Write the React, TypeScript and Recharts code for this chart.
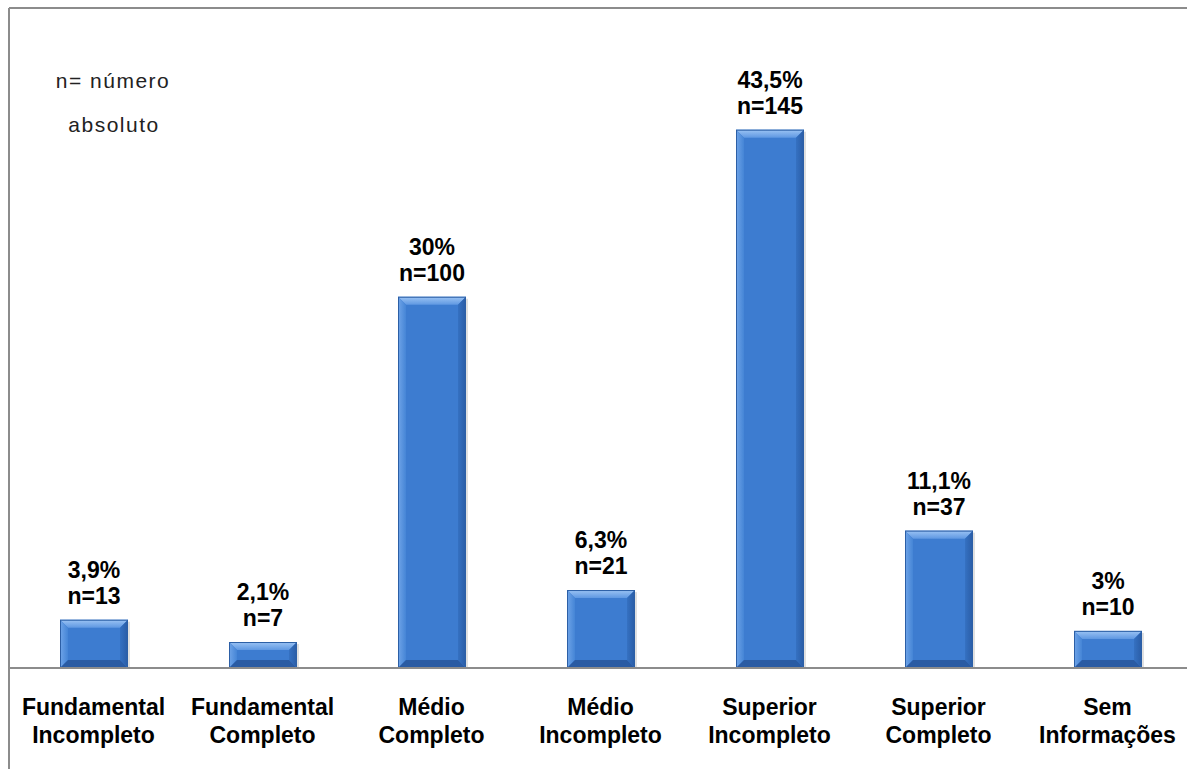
import { BarChart, Bar, XAxis, YAxis, LabelList } from "recharts";

const categories = [
  "Fundamental Incompleto",
  "Fundamental Completo",
  "Médio Completo",
  "Médio Incompleto",
  "Superior Incompleto",
  "Superior Completo",
  "Sem Informações",
];
const counts = [13, 7, 100, 21, 145, 37, 10];
const percents = ["3,9%", "2,1%", "30%", "6,3%", "43,5%", "11,1%", "3%"];

const data = categories.map((name, i) => ({ name, n: counts[i], pct: percents[i] }));

const FONT = "'Liberation Sans', Arial, sans-serif";

// bar with a bevelled look like the old Office charts
function BevelBar(props: any) {
  const { x, y, width: w, height: h } = props;
  if (!h || h <= 0) return null;
  const b = Math.min(8, h / 3);
  return (
    <g>
      <rect x={x + 2} y={y + 2} width={w} height={h - 2} fill="#000" opacity={0.12} />
      <rect x={x} y={y} width={w} height={h} fill="#3D7CD0" />
      <polygon points={`${x},${y} ${x + w},${y} ${x + w - b},${y + b} ${x + b},${y + b}`} fill="url(#bevTop)" />
      <polygon points={`${x},${y} ${x + b},${y + b} ${x + b},${y + h - b} ${x},${y + h}`} fill="url(#bevLeft)" />
      <polygon points={`${x + w},${y} ${x + w - b},${y + b} ${x + w - b},${y + h - b} ${x + w},${y + h}`} fill="url(#bevRight)" />
      <polygon points={`${x},${y + h} ${x + b},${y + h - b} ${x + w - b},${y + h - b} ${x + w},${y + h}`} fill="#2A5BA3" />
      <rect x={x + 0.5} y={y + 0.5} width={w - 1} height={h - 1} fill="none" stroke="#2C5FA6" strokeWidth={1} />
    </g>
  );
}

function CategoryTick(props: any) {
  const { x, y, payload } = props;
  const parts = String(payload.value).split(" ");
  return (
    <g>
      {parts.map((p: string, i: number) => (
        <text
          key={i}
          x={x}
          y={y + 47 + i * 28}
          textAnchor="middle"
          fontFamily={FONT}
          fontWeight="bold"
          fontSize={23}
          fill="#000"
        >
          {p}
        </text>
      ))}
    </g>
  );
}

const labelStyle = { fontFamily: FONT, fontWeight: "bold" as const, fontSize: 23, fill: "#000" };

export default function App() {
  return (
    <div
      style={{
        position: "absolute",
        left: 0,
        top: 0,
        width: 1187,
        height: 769,
        overflow: "hidden",
        background: "#fff",
      }}
    >
      <BarChart
        width={1192}
        height={769}
        data={data}
        margin={{ top: 74, right: 0, left: 9, bottom: 11 }}
      >
        <defs>
          <linearGradient id="bevTop" x1="0" y1="0" x2="0" y2="1">
            <stop offset="0%" stopColor="#9CC4F4" />
            <stop offset="100%" stopColor="#5F98E2" />
          </linearGradient>
          <linearGradient id="bevLeft" x1="0" y1="0" x2="1" y2="0">
            <stop offset="0%" stopColor="#6FA4E8" />
            <stop offset="100%" stopColor="#4585D6" />
          </linearGradient>
          <linearGradient id="bevRight" x1="0" y1="0" x2="1" y2="0">
            <stop offset="0%" stopColor="#3571C2" />
            <stop offset="100%" stopColor="#2A5CA5" />
          </linearGradient>
        </defs>
        <XAxis
          dataKey="name"
          height={90}
          interval={0}
          tickLine={false}
          tickSize={0}
          tickMargin={0}
          axisLine={{ stroke: "#8c8c8c", strokeWidth: 2 }}
          tick={<CategoryTick />}
        />
        <YAxis hide domain={[0, 160]} />
        <Bar dataKey="n" barSize={68} shape={<BevelBar />} isAnimationActive={false}>
          <LabelList
            dataKey="n"
            content={(p: any) => (
              <text x={p.x + p.width / 2} y={p.y - 16} textAnchor="middle" {...labelStyle}>
                {`n=${p.value}`}
              </text>
            )}
          />
          <LabelList
            dataKey="pct"
            content={(p: any) => (
              <text x={p.x + p.width / 2} y={p.y - 42} textAnchor="middle" {...labelStyle}>
                {p.value}
              </text>
            )}
          />
        </Bar>
      </BarChart>
      <svg
        width={1187}
        height={769}
        style={{ position: "absolute", left: 0, top: 0, pointerEvents: "none" }}
      >
        <line x1={9} y1={8} x2={1187} y2={8} stroke="#8c8c8c" strokeWidth={2} />
        <line x1={9} y1={8} x2={9} y2={769} stroke="#8c8c8c" strokeWidth={2} />
        <text x={113} y={88} textAnchor="middle" fontFamily={FONT} fontSize={21} letterSpacing={1.5} fill="#222">
          n= número
        </text>
        <text x={114} y={132} textAnchor="middle" fontFamily={FONT} fontSize={21} letterSpacing={1.5} fill="#222">
          absoluto
        </text>
      </svg>
    </div>
  );
}
